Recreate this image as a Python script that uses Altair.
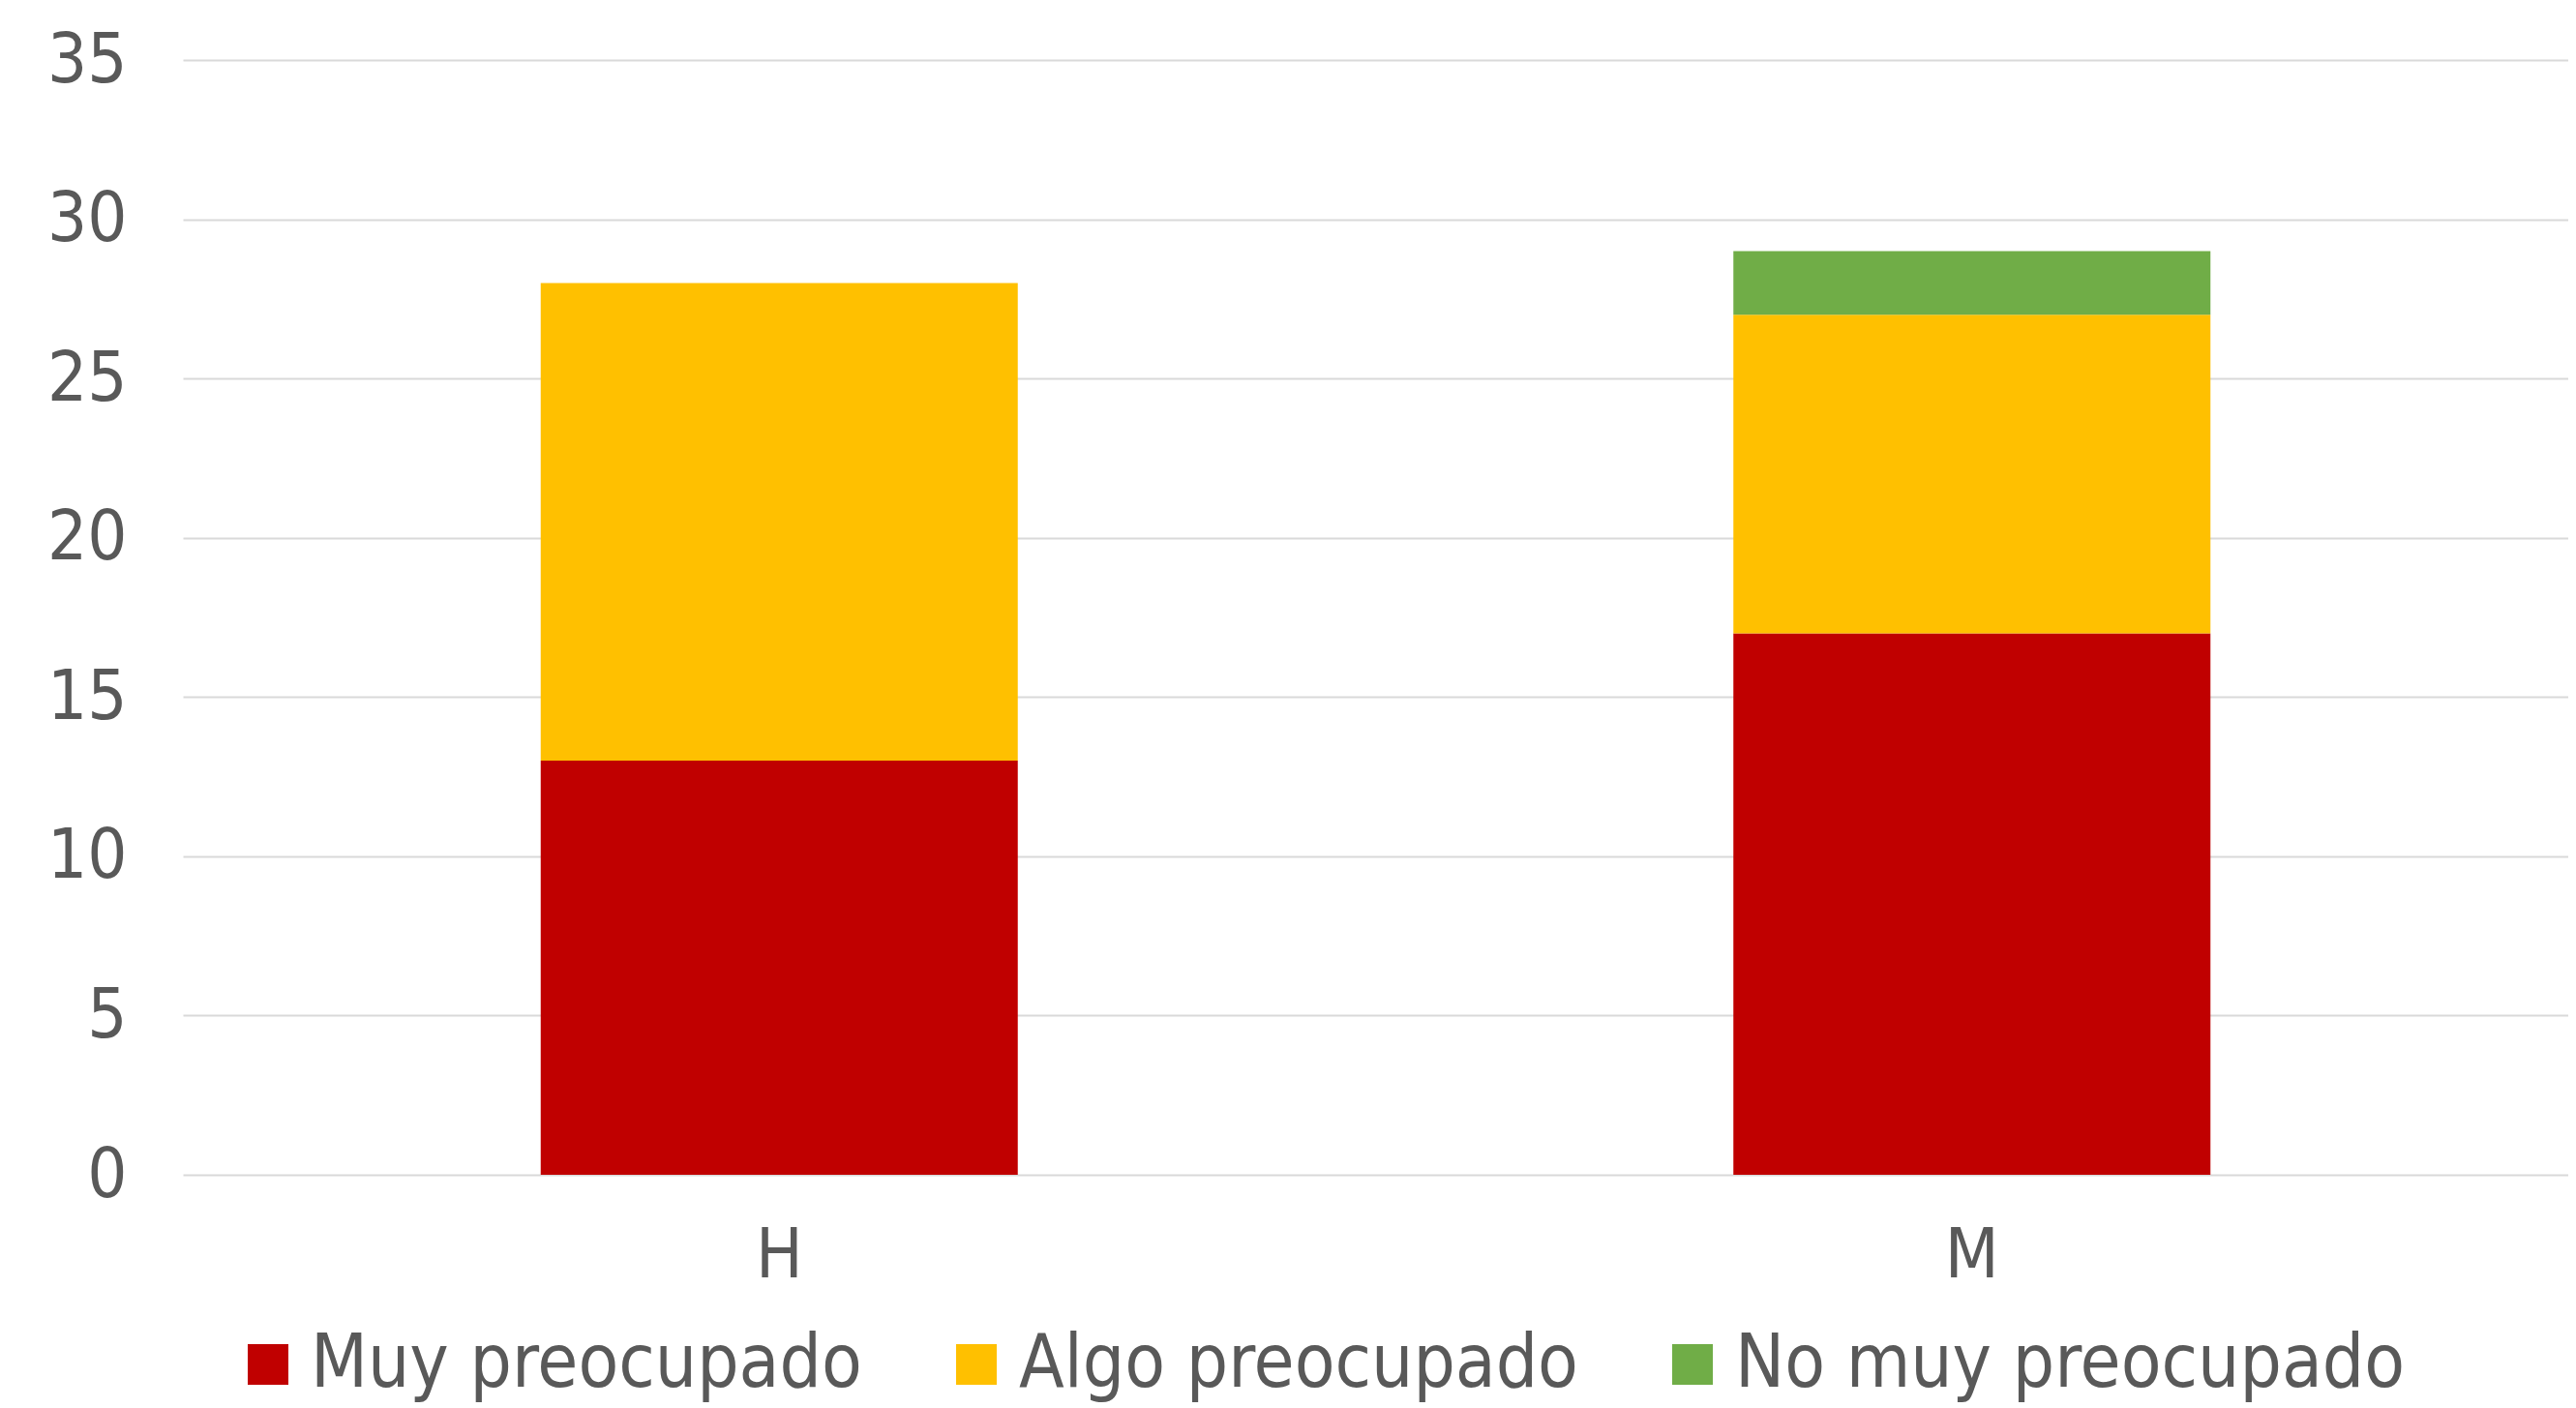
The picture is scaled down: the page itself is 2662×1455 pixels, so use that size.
import altair as alt
import pandas as pd

categories = ["H", "M"]
series = ["Muy preocupado", "Algo preocupado", "No muy preocupado"]
muy = [13, 17]
algo = [15, 10]
no_muy = [0, 2]
colors = ["#C00000", "#FFC000", "#70AD47"]

rows = []
for i, c in enumerate(categories):
    for s, vals in zip(series, [muy, algo, no_muy]):
        rows.append({"cat": c, "serie": s, "valor": vals[i], "orden": series.index(s)})
df = pd.DataFrame(rows)

FONT = "Liberation Sans Narrow, DejaVu Sans Condensed, Roboto, sans-serif"
TXT = "#595959"

chart = alt.Chart(df).mark_bar().encode(
    x=alt.X("cat:N", sort=categories, title=None,
            scale=alt.Scale(paddingInner=0.6, paddingOuter=0.3),
            axis=alt.Axis(labelAngle=0, labelFont=FONT, labelFontSize=72, labelColor=TXT,
                          labelPadding=48, ticks=False, domain=False, grid=False)),
    y=alt.Y("valor:Q", stack="zero", title=None,
            scale=alt.Scale(domain=[0, 35], nice=False),
            axis=alt.Axis(values=[0, 5, 10, 15, 20, 25, 30, 35], labelFont=FONT, labelFontSize=72,
                          labelColor=TXT, labelPadding=58, ticks=False, domain=False,
                          gridColor="#D9D9D9", gridWidth=2)),
    color=alt.Color("serie:N", sort=series,
                    scale=alt.Scale(domain=series, range=colors),
                    legend=alt.Legend(title=None, orient="none", direction="horizontal",
                                      legendX=50, legendY=1310,
                                      symbolType="square", symbolSize=1764, symbolStrokeWidth=0,
                                      labelFont=FONT, labelFontSize=76, labelColor=TXT,
                                      labelOffset=6, columnPadding=80, labelLimit=1000)),
    order=alt.Order("orden:Q"),
).properties(
    width=2465, height=1152,
    autosize="none",
    padding={"left": 181, "top": 54, "right": 0, "bottom": 238},
).configure_view(stroke=None)

chart.save("out.html", embed_options={"renderer": "svg", "actions": False})
